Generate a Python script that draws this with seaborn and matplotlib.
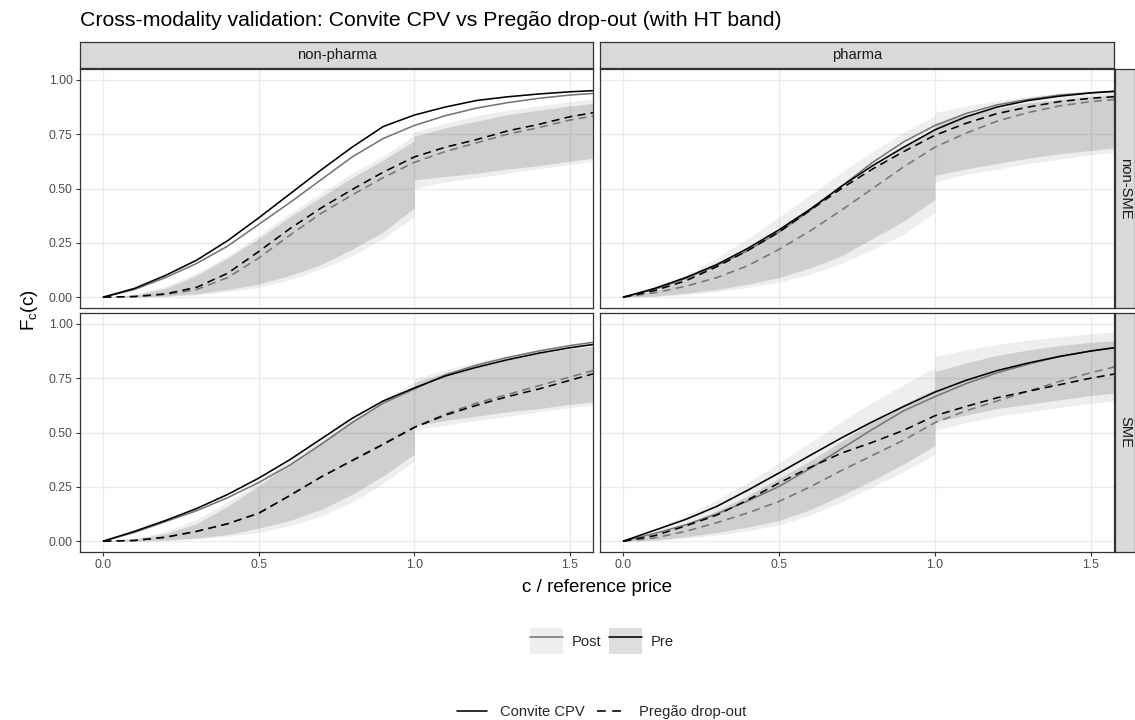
import numpy as np
import pandas as pd
import matplotlib
matplotlib.use("Agg")
import matplotlib.pyplot as plt
import seaborn as sns
from matplotlib.lines import Line2D
from matplotlib.patches import Patch

sns.set_theme(style="whitegrid")
plt.rcParams['font.family'] = ['Liberation Sans', 'DejaVu Sans']

# ---------------- data ----------------
COL_LABELS = ["non-pharma", "pharma"]
ROW_LABELS = ["non-SME", "SME"]
PERIODS = ["Post", "Pre"]
SOURCES = ["Convite CPV", "Pregão drop-out"]

C_GRID = [0.0, 0.1, 0.2, 0.3, 0.4, 0.5, 0.6, 0.7, 0.8, 0.9, 1.0,
          1.1, 1.2, 1.3, 1.4, 1.5, 1.6]
BAND_X = [0.0, 0.1, 0.2, 0.3, 0.4, 0.5, 0.6, 0.7, 0.8, 0.9, 1.0, 1.0,
          1.1, 1.2, 1.3, 1.4, 1.5, 1.6]

# non-pharma / non-SME
NP_NS_PRE_CPV = [0, 0.04, 0.10, 0.17, 0.26, 0.365, 0.475, 0.585, 0.69, 0.785, 0.838, 0.875, 0.905, 0.922, 0.935, 0.945, 0.952]
NP_NS_POST_CPV = [0, 0.035, 0.09, 0.155, 0.235, 0.335, 0.435, 0.54, 0.645, 0.73, 0.79, 0.835, 0.87, 0.895, 0.915, 0.93, 0.94]
NP_NS_PRE_DROP = [0, 0.003, 0.015, 0.045, 0.11, 0.21, 0.315, 0.41, 0.495, 0.575, 0.645, 0.69, 0.725, 0.765, 0.795, 0.83, 0.855]
NP_NS_POST_DROP = [0, 0.002, 0.012, 0.035, 0.09, 0.18, 0.285, 0.385, 0.47, 0.55, 0.62, 0.67, 0.71, 0.75, 0.78, 0.815, 0.84]
NP_NS_PRE_LO = [0, 0.0, 0.005, 0.015, 0.035, 0.06, 0.10, 0.15, 0.22, 0.30, 0.41, 0.54, 0.555, 0.57, 0.59, 0.605, 0.625, 0.645]
NP_NS_PRE_HI = [0, 0.01, 0.04, 0.10, 0.18, 0.27, 0.37, 0.46, 0.55, 0.63, 0.72, 0.74, 0.78, 0.81, 0.84, 0.86, 0.88, 0.895]
NP_NS_POST_LO = [0, 0.0, 0.003, 0.01, 0.025, 0.045, 0.08, 0.13, 0.19, 0.27, 0.37, 0.50, 0.53, 0.55, 0.57, 0.59, 0.61, 0.63]
NP_NS_POST_HI = [0, 0.012, 0.05, 0.11, 0.19, 0.285, 0.385, 0.48, 0.57, 0.65, 0.745, 0.76, 0.80, 0.835, 0.86, 0.88, 0.90, 0.915]

# pharma / non-SME
PH_NS_PRE_CPV = [0, 0.04, 0.09, 0.15, 0.225, 0.31, 0.405, 0.51, 0.605, 0.69, 0.77, 0.83, 0.875, 0.905, 0.925, 0.94, 0.95]
PH_NS_POST_CPV = [0, 0.035, 0.085, 0.145, 0.215, 0.30, 0.40, 0.51, 0.62, 0.715, 0.79, 0.845, 0.885, 0.91, 0.93, 0.94, 0.948]
PH_NS_PRE_DROP = [0, 0.03, 0.075, 0.14, 0.215, 0.30, 0.40, 0.50, 0.59, 0.67, 0.745, 0.80, 0.845, 0.875, 0.90, 0.915, 0.925]
PH_NS_POST_DROP = [0, 0.02, 0.05, 0.09, 0.145, 0.22, 0.305, 0.40, 0.50, 0.60, 0.69, 0.755, 0.81, 0.85, 0.88, 0.90, 0.912]
PH_NS_PRE_LO = [0, 0.005, 0.018, 0.035, 0.06, 0.09, 0.135, 0.19, 0.27, 0.35, 0.45, 0.56, 0.59, 0.615, 0.64, 0.66, 0.675, 0.69]
PH_NS_PRE_HI = [0, 0.03, 0.08, 0.14, 0.215, 0.30, 0.40, 0.50, 0.60, 0.69, 0.77, 0.80, 0.84, 0.87, 0.895, 0.91, 0.925, 0.935]
PH_NS_POST_LO = [0, 0.003, 0.012, 0.025, 0.045, 0.07, 0.105, 0.155, 0.22, 0.29, 0.39, 0.53, 0.565, 0.59, 0.615, 0.635, 0.655, 0.67]
PH_NS_POST_HI = [0, 0.04, 0.10, 0.18, 0.27, 0.37, 0.47, 0.575, 0.67, 0.76, 0.835, 0.85, 0.88, 0.905, 0.925, 0.94, 0.95, 0.955]

# non-pharma / SME
NP_S_PRE_CPV = [0, 0.045, 0.095, 0.15, 0.215, 0.29, 0.375, 0.47, 0.565, 0.645, 0.705, 0.76, 0.80, 0.835, 0.865, 0.89, 0.91]
NP_S_POST_CPV = [0, 0.04, 0.09, 0.14, 0.20, 0.27, 0.35, 0.445, 0.545, 0.635, 0.70, 0.765, 0.81, 0.845, 0.875, 0.90, 0.92]
NP_S_PRE_DROP = [0, 0.003, 0.018, 0.045, 0.08, 0.128, 0.21, 0.295, 0.37, 0.445, 0.523, 0.58, 0.625, 0.665, 0.70, 0.74, 0.78]
NP_S_POST_DROP = [0, 0.003, 0.018, 0.045, 0.08, 0.13, 0.21, 0.295, 0.372, 0.448, 0.525, 0.585, 0.635, 0.675, 0.715, 0.755, 0.795]
NP_S_PRE_LO = [0, 0.0, 0.005, 0.015, 0.03, 0.06, 0.095, 0.145, 0.215, 0.30, 0.40, 0.53, 0.555, 0.575, 0.595, 0.61, 0.63, 0.645]
NP_S_PRE_HI = [0, 0.01, 0.035, 0.08, 0.16, 0.255, 0.355, 0.455, 0.555, 0.64, 0.71, 0.73, 0.775, 0.81, 0.84, 0.865, 0.885, 0.90]
NP_S_POST_LO = [0, 0.0, 0.003, 0.01, 0.022, 0.04, 0.07, 0.115, 0.18, 0.265, 0.37, 0.51, 0.535, 0.555, 0.575, 0.595, 0.615, 0.63]
NP_S_POST_HI = [0, 0.012, 0.045, 0.10, 0.18, 0.275, 0.375, 0.475, 0.57, 0.655, 0.73, 0.745, 0.79, 0.825, 0.855, 0.88, 0.90, 0.915]

# pharma / SME
PH_S_PRE_CPV = [0, 0.05, 0.10, 0.16, 0.235, 0.314, 0.395, 0.475, 0.55, 0.62, 0.686, 0.74, 0.785, 0.82, 0.85, 0.875, 0.895]
PH_S_POST_CPV = [0, 0.035, 0.075, 0.125, 0.185, 0.252, 0.335, 0.425, 0.515, 0.60, 0.665, 0.725, 0.775, 0.815, 0.85, 0.875, 0.895]
PH_S_PRE_DROP = [0, 0.025, 0.07, 0.12, 0.19, 0.268, 0.34, 0.405, 0.455, 0.51, 0.577, 0.62, 0.66, 0.69, 0.72, 0.75, 0.775]
PH_S_POST_DROP = [0, 0.015, 0.045, 0.085, 0.13, 0.183, 0.25, 0.325, 0.395, 0.465, 0.545, 0.60, 0.645, 0.69, 0.735, 0.775, 0.81]
PH_S_PRE_LO = [0, 0.005, 0.02, 0.04, 0.065, 0.095, 0.145, 0.21, 0.28, 0.355, 0.44, 0.55, 0.58, 0.61, 0.63, 0.65, 0.67, 0.685]
PH_S_PRE_HI = [0, 0.03, 0.08, 0.14, 0.21, 0.29, 0.37, 0.46, 0.55, 0.63, 0.70, 0.78, 0.82, 0.855, 0.88, 0.90, 0.915, 0.925]
PH_S_POST_LO = [0, 0.003, 0.013, 0.028, 0.048, 0.075, 0.12, 0.18, 0.25, 0.32, 0.40, 0.51, 0.545, 0.575, 0.595, 0.615, 0.635, 0.65]
PH_S_POST_HI = [0, 0.05, 0.12, 0.19, 0.27, 0.36, 0.455, 0.55, 0.64, 0.72, 0.80, 0.85, 0.88, 0.905, 0.925, 0.94, 0.955, 0.965]

PANELS = {
    ("non-SME", "non-pharma"): dict(
        lines={("Pre", "Convite CPV"): NP_NS_PRE_CPV, ("Post", "Convite CPV"): NP_NS_POST_CPV,
               ("Pre", "Pregão drop-out"): NP_NS_PRE_DROP, ("Post", "Pregão drop-out"): NP_NS_POST_DROP},
        bands={"Pre": (NP_NS_PRE_LO, NP_NS_PRE_HI), "Post": (NP_NS_POST_LO, NP_NS_POST_HI)}),
    ("non-SME", "pharma"): dict(
        lines={("Pre", "Convite CPV"): PH_NS_PRE_CPV, ("Post", "Convite CPV"): PH_NS_POST_CPV,
               ("Pre", "Pregão drop-out"): PH_NS_PRE_DROP, ("Post", "Pregão drop-out"): PH_NS_POST_DROP},
        bands={"Pre": (PH_NS_PRE_LO, PH_NS_PRE_HI), "Post": (PH_NS_POST_LO, PH_NS_POST_HI)}),
    ("SME", "non-pharma"): dict(
        lines={("Pre", "Convite CPV"): NP_S_PRE_CPV, ("Post", "Convite CPV"): NP_S_POST_CPV,
               ("Pre", "Pregão drop-out"): NP_S_PRE_DROP, ("Post", "Pregão drop-out"): NP_S_POST_DROP},
        bands={"Pre": (NP_S_PRE_LO, NP_S_PRE_HI), "Post": (NP_S_POST_LO, NP_S_POST_HI)}),
    ("SME", "pharma"): dict(
        lines={("Pre", "Convite CPV"): PH_S_PRE_CPV, ("Post", "Convite CPV"): PH_S_POST_CPV,
               ("Pre", "Pregão drop-out"): PH_S_PRE_DROP, ("Post", "Pregão drop-out"): PH_S_POST_DROP},
        bands={"Pre": (PH_S_PRE_LO, PH_S_PRE_HI), "Post": (PH_S_POST_LO, PH_S_POST_HI)}),
}

rows = []
for (sme, ph), spec in PANELS.items():
    for (period, source), vals in spec["lines"].items():
        for c, f in zip(C_GRID, vals):
            rows.append(dict(sme=sme, pharma=ph, period=period, source=source, c=c, F=f))
df = pd.DataFrame(rows)

# ---------------- style ----------------
W, H = 1135, 720
LINE_COL = {"Post": "#767676", "Pre": "#000000"}
BAND_COL = {"Post": "#7f7f7f", "Pre": "#000000"}
BAND_ALPHA = 0.13
DASHES = {"Convite CPV": "", "Pregão drop-out": (5, 3.3)}
GRID_C = "#EBEBEB"
EDGE_C = "#333333"
SMALL = 10.6

def rect(x0, y0, x1, y1):
    return [x0 / W, 1 - y1 / H, (x1 - x0) / W, (y1 - y0) / H]

fig = plt.figure(figsize=(W / 100, H / 100), dpi=100)
fig.patch.set_facecolor("white")

COL_X = [(80, 593), (600, 1114)]
ROW_Y = [(69, 308), (313, 552)]

for ri, sme in enumerate(ROW_LABELS):
    for ci, ph in enumerate(COL_LABELS):
        x0, x1 = COL_X[ci]
        y0, y1 = ROW_Y[ri]
        ax = fig.add_axes(rect(x0, y0, x1, y1))
        ax.set_facecolor("white")
        spec = PANELS[(sme, ph)]
        for period in PERIODS:
            lo, hi = spec["bands"][period]
            ax.fill_between(BAND_X, lo, hi, color=BAND_COL[period], alpha=BAND_ALPHA,
                            linewidth=0, zorder=1)
        sub = df[(df.sme == sme) & (df.pharma == ph)]
        sns.lineplot(data=sub, x="c", y="F", hue="period", style="source",
                     hue_order=PERIODS, style_order=SOURCES,
                     palette=LINE_COL, dashes=DASHES, estimator=None, sort=False,
                     linewidth=1.15, legend=False, ax=ax, zorder=3)
        ax.set_xlim(-0.075, 1.575)
        ax.set_ylim(-0.05, 1.05)
        ax.set_xticks([0, 0.5, 1.0, 1.5])
        ax.set_yticks([0, 0.25, 0.5, 0.75, 1.0])
        ax.grid(True, color=GRID_C, linewidth=1.0, zorder=0)
        ax.set_axisbelow(True)
        for s in ax.spines.values():
            s.set_color(EDGE_C)
            s.set_linewidth(0.9)
            s.set_zorder(5)
        ax.tick_params(axis="both", length=2.75, width=0.8, color=EDGE_C,
                       labelsize=8.8, labelcolor="#4D4D4D", pad=2.5,
                       bottom=(ri == 1), left=(ci == 0),
                       labelbottom=(ri == 1), labelleft=(ci == 0))
        if ri == 1:
            ax.set_xticklabels(["0.0", "0.5", "1.0", "1.5"])
        if ci == 0:
            ax.set_yticklabels(["0.00", "0.25", "0.50", "0.75", "1.00"])
        ax.set_xlabel("")
        ax.set_ylabel("")

# strips
for ci, ph in enumerate(COL_LABELS):
    x0, x1 = COL_X[ci]
    sax = fig.add_axes(rect(x0, 42, x1, 68))
    sax.set_facecolor("#D9D9D9")
    sax.set_xticks([]); sax.set_yticks([])
    sax.grid(False)
    for s in sax.spines.values():
        s.set_color(EDGE_C); s.set_linewidth(0.9)
    sax.text(0.5, 0.5, ph, ha="center", va="center", fontsize=SMALL,
             color="#1A1A1A", transform=sax.transAxes)
for ri, sme in enumerate(ROW_LABELS):
    y0, y1 = ROW_Y[ri]
    sax = fig.add_axes(rect(1115, y0, 1135, y1))
    sax.set_facecolor("#D9D9D9")
    sax.set_xticks([]); sax.set_yticks([])
    sax.grid(False)
    for s in sax.spines.values():
        s.set_color(EDGE_C); s.set_linewidth(0.9)
    sax.text(0.5, 0.5, sme, ha="center", va="center", fontsize=SMALL,
             color="#1A1A1A", rotation=-90, transform=sax.transAxes)

# titles
fig.text(80 / W, 1 - 20 / H, "Cross-modality validation: Convite CPV vs Pregão drop-out (with HT band)",
         ha="left", va="center", fontsize=15.3, color="black")
fig.text(597 / W, 1 - 587 / H, "c / reference price", ha="center", va="center",
         fontsize=13.5, color="black")
fig.text(30 / W, 1 - 310 / H, r"F$_\mathregular{c}$(c)", ha="center", va="center",
         rotation=90, fontsize=13.5, color="black")

# legends
def band_fill(period):
    base = np.array(matplotlib.colors.to_rgb(BAND_COL[period]))
    return tuple(1 - BAND_ALPHA * (1 - base))

h1 = [(Patch(facecolor=band_fill(p), edgecolor="none"),
       Line2D([], [], color=LINE_COL[p], linewidth=1.15)) for p in PERIODS]
leg1 = fig.legend(h1, PERIODS, loc="center", bbox_to_anchor=(602 / W, 1 - 641 / H),
                  ncol=2, frameon=False, fontsize=SMALL, handlelength=2.25,
                  handleheight=2.25, handletextpad=0.6, columnspacing=0.5,
                  borderpad=0, borderaxespad=0)
h2 = [Line2D([], [], color="black", linewidth=1.15),
      Line2D([], [], color="black", linewidth=1.15, dashes=(5.5, 4))]
leg2 = fig.legend(h2, SOURCES, loc="center", bbox_to_anchor=(602 / W, 1 - 712 / H),
                  ncol=2, frameon=False, fontsize=SMALL, handlelength=2.0,
                  handletextpad=0.9, columnspacing=0.8, borderpad=0, borderaxespad=0)

fig.savefig("out.png", dpi=100, facecolor="white")
